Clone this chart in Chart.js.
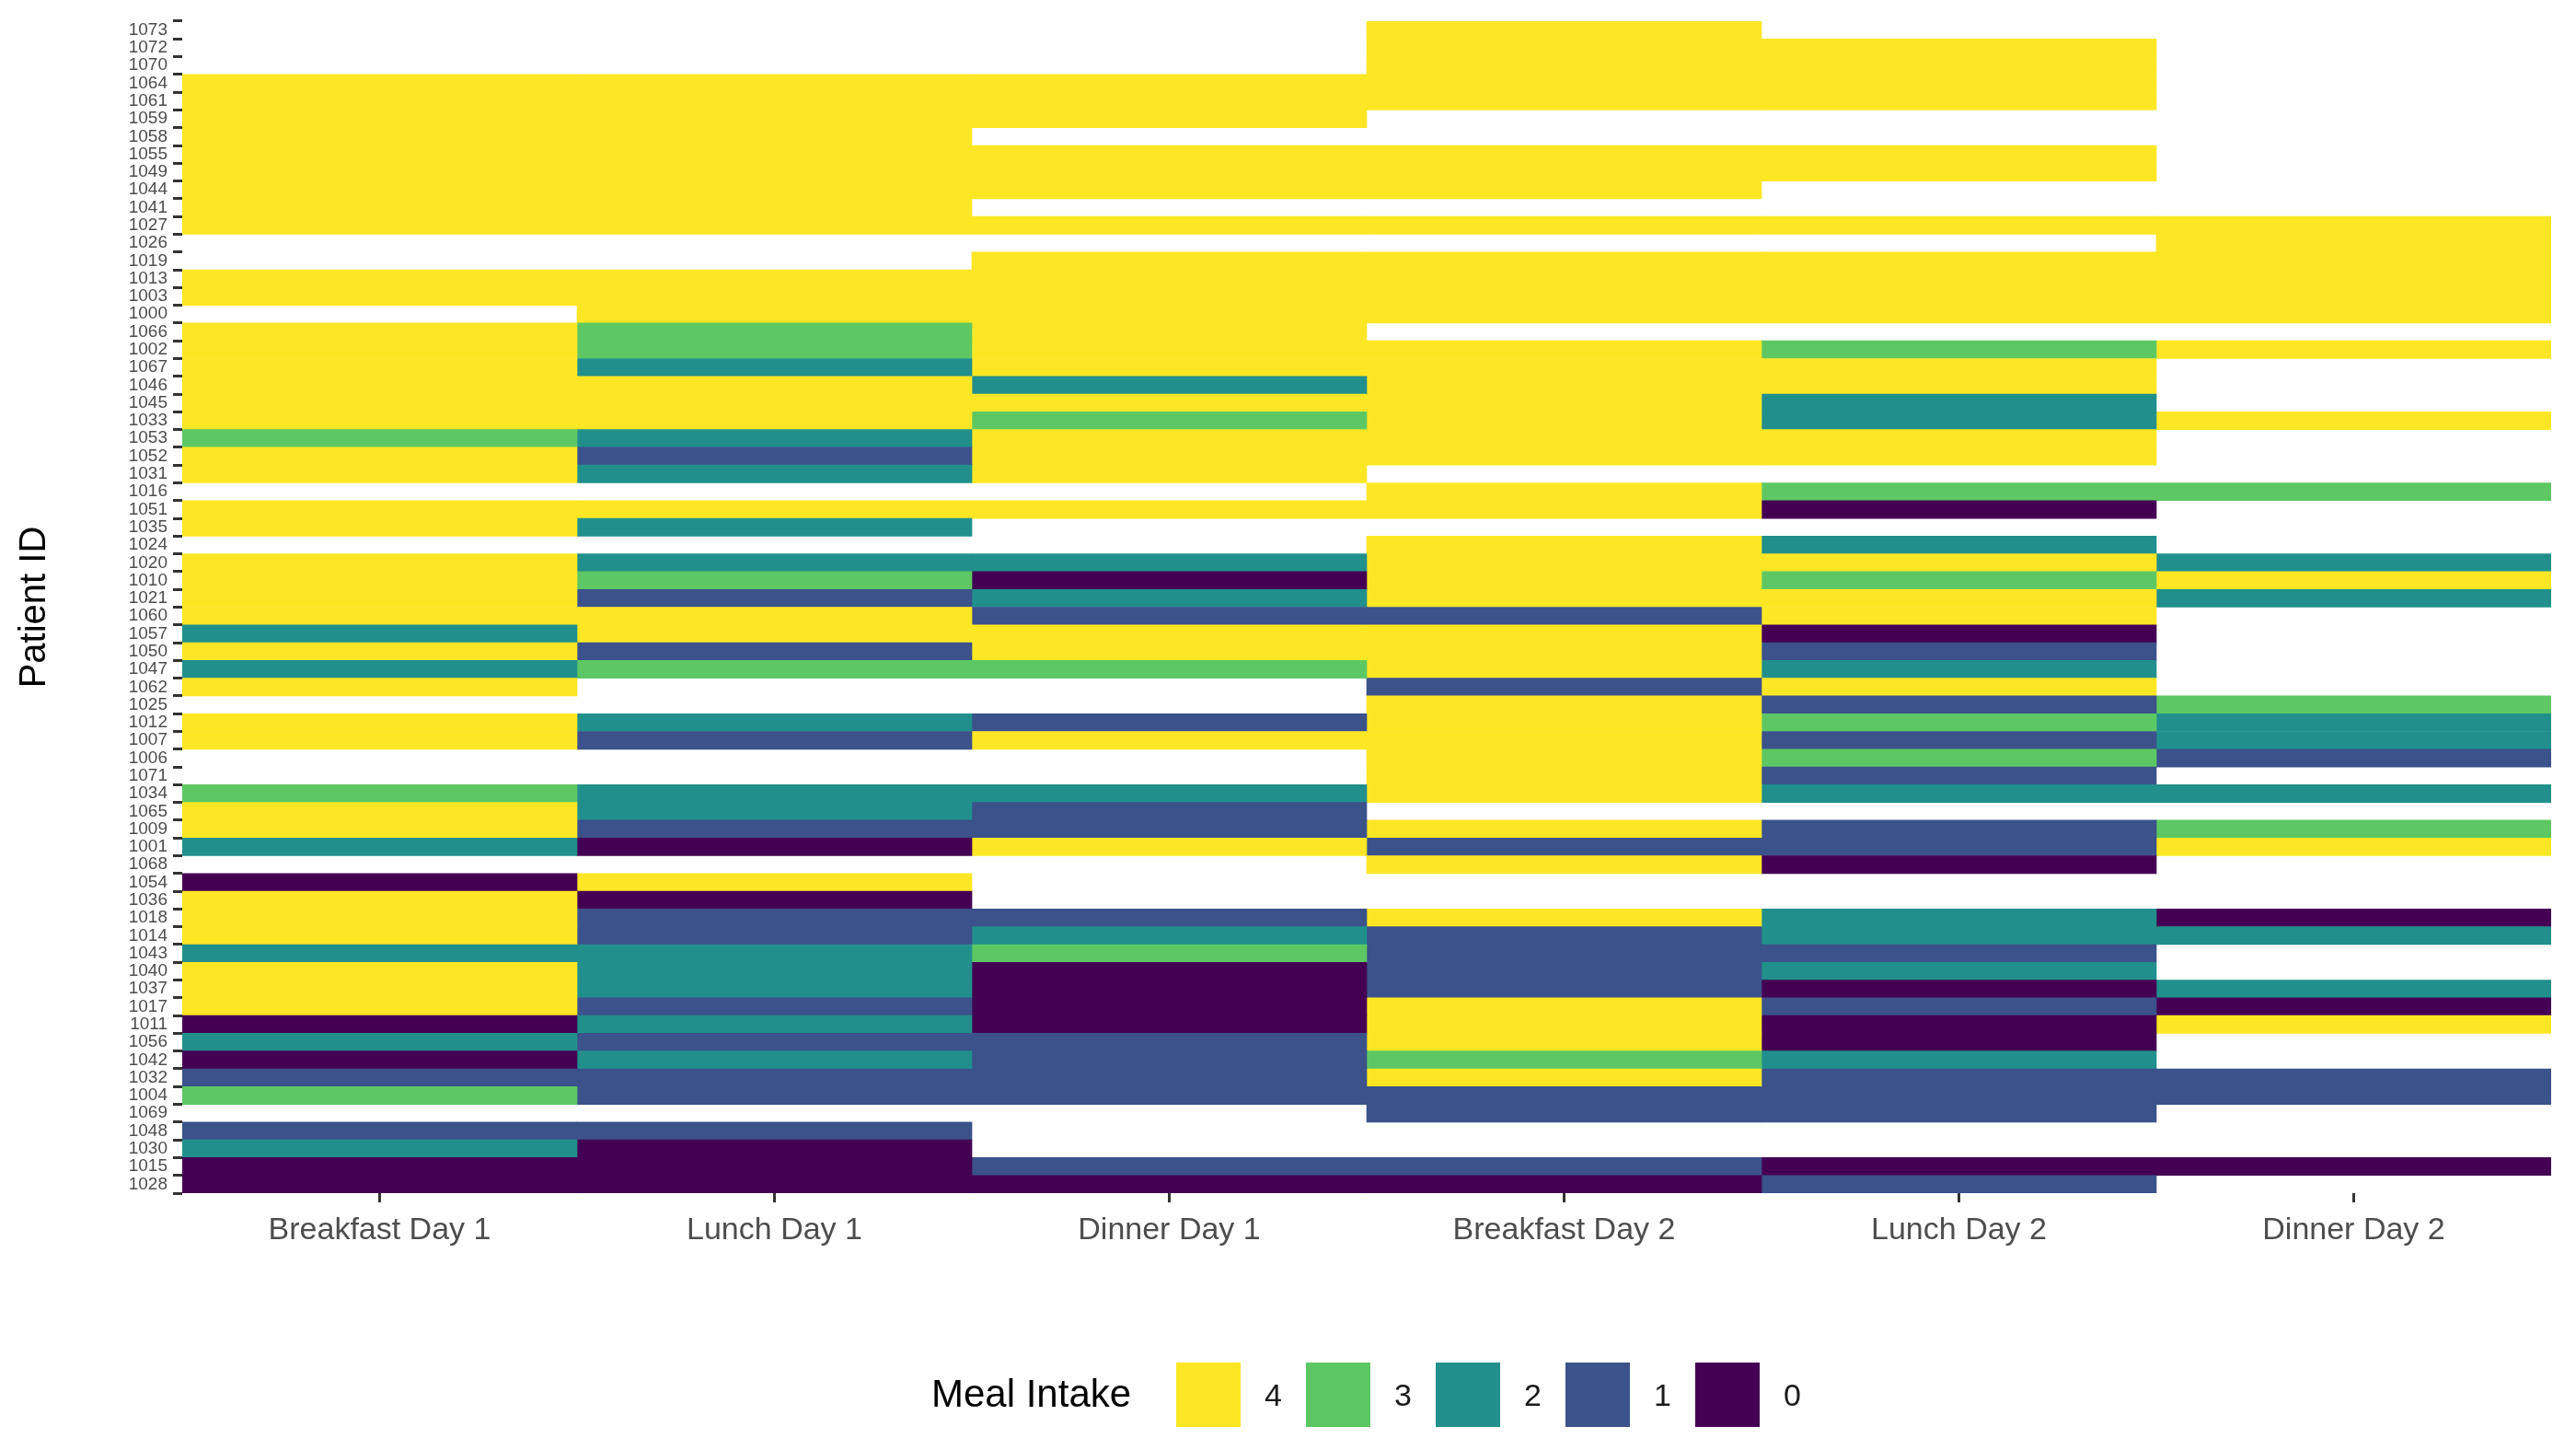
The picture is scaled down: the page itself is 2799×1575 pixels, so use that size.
<!DOCTYPE html>
<html><head><meta charset="utf-8">
<script src="https://cdn.jsdelivr.net/npm/chart.js@4/dist/chart.umd.min.js"></script>
<style>
html,body{margin:0;padding:0;background:#fff;}
#wrap{position:relative;width:2799px;height:1575px;}
#leg{position:absolute;left:0;top:1480px;height:70px;font-family:"Liberation Sans",Arial,sans-serif;color:#000;}
.t{position:absolute;top:10px;font-size:42px;white-space:nowrap;}
.sw{position:absolute;top:0;width:70px;height:70px;}
.lb{position:absolute;top:16px;font-size:34px;color:#1a1a1a;}
</style></head><body>
<div id="wrap"><canvas id="c" width="2799" height="1575"></canvas><div id="leg"></div></div>
<script>
const patients=["1073","1072","1070","1064","1061","1059","1058","1055","1049","1044","1041","1027","1026","1019","1013","1003","1000","1066","1002","1067","1046","1045","1033","1053","1052","1031","1016","1051","1035","1024","1020","1010","1021","1060","1057","1050","1047","1062","1025","1012","1007","1006","1071","1034","1065","1009","1001","1068","1054","1036","1018","1014","1043","1040","1037","1017","1011","1056","1042","1032","1004","1069","1048","1030","1015","1028"];
const meals=["Breakfast Day 1","Lunch Day 1","Dinner Day 1","Breakfast Day 2","Lunch Day 2","Dinner Day 2"];
const N=null;
const breakfastDay1=[N,N,N,4,4,4,4,4,4,4,4,4,N,N,4,4,N,4,4,4,4,4,4,3,4,4,N,4,4,N,4,4,4,4,2,4,2,4,N,4,4,N,N,3,4,4,2,N,0,4,4,4,2,4,4,4,0,2,0,1,3,N,1,2,0,0];
const lunchDay1=[N,N,N,4,4,4,4,4,4,4,4,4,N,N,4,4,4,3,3,2,4,4,4,2,1,2,N,4,2,N,2,3,1,4,4,1,3,N,N,2,1,N,N,2,2,1,0,N,4,0,1,1,2,2,2,1,2,1,2,1,1,N,1,0,0,0];
const dinnerDay1=[N,N,N,4,4,4,N,4,4,4,N,4,N,4,4,4,4,4,4,4,2,4,3,4,4,4,N,4,N,N,2,0,2,1,4,4,3,N,N,1,4,N,N,2,1,1,4,N,N,N,1,2,3,0,0,0,0,1,1,1,1,N,N,N,1,0];
const breakfastDay2=[4,4,4,4,4,N,N,4,4,4,N,4,N,4,4,4,4,N,4,4,4,4,4,4,4,N,4,4,N,4,4,4,4,1,4,4,4,1,4,4,4,4,4,4,N,4,1,4,N,N,4,1,1,1,1,4,4,4,3,4,1,1,N,N,1,0];
const lunchDay2=[N,4,4,4,4,N,N,4,4,N,N,4,N,4,4,4,4,N,3,4,4,2,2,4,4,N,3,0,N,2,4,3,4,4,0,1,2,4,1,3,1,3,1,2,N,1,1,0,N,N,2,2,1,2,0,1,0,0,2,1,1,1,N,N,0,1];
const dinnerDay2=[N,N,N,N,N,N,N,N,N,N,N,4,4,4,4,4,4,N,4,N,N,N,4,N,N,N,3,N,N,N,2,4,2,N,N,N,N,N,3,2,2,1,N,2,N,3,4,N,N,N,0,2,N,N,2,0,4,N,N,1,1,N,N,N,0,N];
const levels=[4,3,2,1,0];
const levelColors={4:"#FDE725",3:"#5DC863",2:"#21908C",1:"#3B528B",0:"#440154"};
const columns=[breakfastDay1,lunchDay1,dinnerDay1,breakfastDay2,lunchDay2,dinnerDay2];

const datasets=columns.map((col,j)=>({
  label:meals[j],
  data:col.map(v=>v===null?null:[j,j+1]),
  backgroundColor:col.map(v=>v===null?"rgba(0,0,0,0)":levelColors[v]),
  borderWidth:0,borderSkipped:false,grouped:false,
  barPercentage:1.0,categoryPercentage:1.0
}));

new Chart(document.getElementById('c'),{
  type:'bar',
  data:{labels:patients,datasets},
  options:{
    indexAxis:'y',responsive:false,animation:false,devicePixelRatio:1,
    layout:{padding:{top:23,right:27,bottom:0,left:14}},
    plugins:{legend:{display:false},tooltip:{enabled:false}},
    scales:{
      x:{type:'linear',min:0,max:6,
        afterBuildTicks:s=>{s.ticks=meals.map((m,i)=>({value:i+0.5}));},
        afterFit:s=>{s.height=279;},
        ticks:{callback:(v)=>meals[Math.floor(v)],font:{family:"Liberation Sans, Arial",size:34},color:"#4d4d4d",padding:10,maxRotation:0,autoSkip:false},
        grid:{display:true,drawOnChartArea:false,drawTicks:true,tickLength:10,tickColor:"#333",tickWidth:3},
        border:{display:false}},
      y:{type:'category',
        afterFit:s=>{s.width=184;},
        ticks:{font:{family:"Liberation Sans, Arial",size:19},color:"#4d4d4d",padding:6,autoSkip:false},
        grid:{display:true,drawOnChartArea:false,drawTicks:true,tickLength:10,tickColor:"#333",tickWidth:3},
        border:{display:false},
        title:{display:true,text:"Patient ID",font:{family:"Liberation Sans, Arial",size:40},color:"#000",padding:{top:0,bottom:8}}}
    }
  }
});

const leg=document.getElementById('leg');
let h='<div class="t" style="left:1012px">Meal Intake</div>';
levels.forEach((l,i)=>{
  const x=1278+i*141;
  h+='<div class="sw" style="left:'+x+'px;background:'+levelColors[l]+'"></div>';
  h+='<div class="lb" style="left:'+(x+96)+'px">'+l+'</div>';
});
leg.innerHTML=h;
</script></body></html>
